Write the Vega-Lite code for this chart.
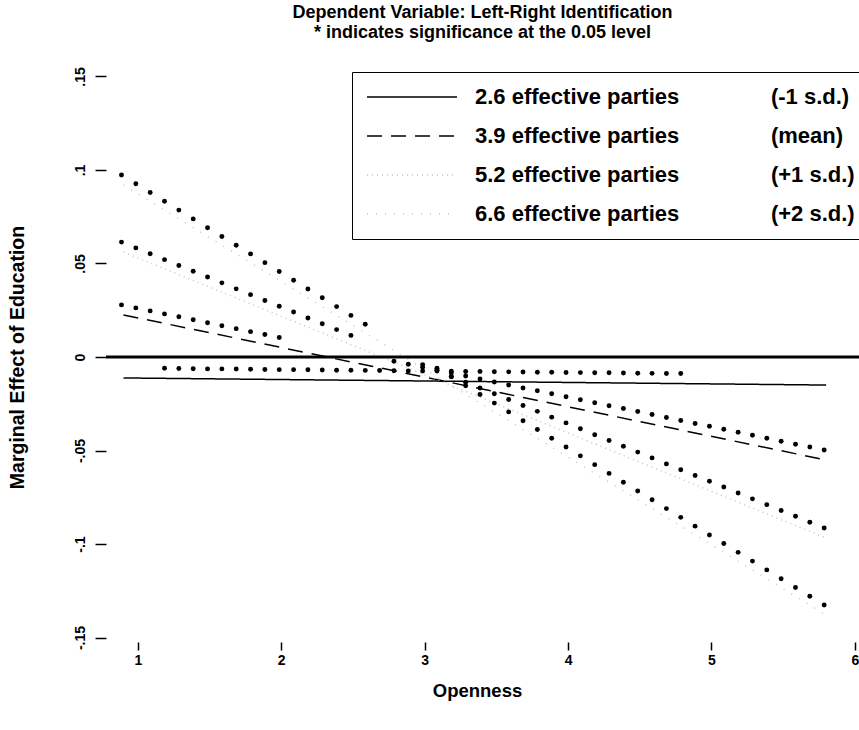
{
  "$schema": "https://vega.github.io/schema/vega-lite/v6.json",
  "autosize": {"type": "none"},
  "padding": {"left": 106, "top": 72, "right": 0, "bottom": 88},
  "width": 753,
  "height": 570,
  "background": "white",
  "title": {
    "text": ["Dependent Variable: Left-Right Identification", "* indicates significance at the 0.05 level"],
    "font": "Liberation Sans",
    "fontWeight": "bold",
    "fontSize": 18,
    "lineHeight": 20,
    "anchor": "middle",
    "offset": 25,
    "color": "black"
  },
  "config": {
    "font": "Liberation Sans",
    "view": {"stroke": null},
    "axis": {"domain": false, "grid": false, "tickColor": "black", "tickWidth": 1.5, "labelColor": "black", "titleColor": "black", "labelFont": "Liberation Sans", "titleFont": "Liberation Sans", "labelFontWeight": "bold", "titleFontWeight": "bold"},
    "axisX": {"tickSize": 8, "labelFontSize": 14, "labelPadding": 3, "titleFontSize": 18.5, "titleX": 371, "titleY": 48, "titleBaseline": "middle"},
    "axisY": {"tickSize": 11, "labelFontSize": 14, "labelAngle": 270, "labelAlign": "center", "labelBaseline": "bottom", "labelPadding": 8, "titleFontSize": 19.5, "titleX": -89, "titleBaseline": "middle"},
    "legend": {
      "symbolType": "stroke",
      "symbolSize": 8100,
      "symbolStrokeWidth": 1.5,
      "labelFont": "Liberation Sans",
      "labelFontSize": 22,
      "labelFontWeight": "bold",
      "labelColor": "black",
      "strokeColor": "black",
      "fillColor": "white",
      "padding": 14,
      "rowPadding": 17,
      "labelOffset": 17,
      "clipHeight": 22,
      "labelLimit": 0
    }
  },
  "datasets": {
    "lines": [
      {"series": "2.6 effective parties", "x": 0.9, "y": -0.0112},
      {"series": "2.6 effective parties", "x": 5.8, "y": -0.015},
      {"series": "3.9 effective parties", "x": 0.9, "y": 0.0225},
      {"series": "3.9 effective parties", "x": 5.8, "y": -0.0551},
      {"series": "5.2 effective parties", "x": 0.9, "y": 0.0561},
      {"series": "5.2 effective parties", "x": 5.8, "y": -0.0968},
      {"series": "6.6 effective parties", "x": 0.9, "y": 0.092},
      {"series": "6.6 effective parties", "x": 5.8, "y": -0.138}
    ],
    "stars": [
      {"s": "2.6", "x": 1.2, "y": -0.0114}, {"s": "2.6", "x": 1.3, "y": -0.0115}, {"s": "2.6", "x": 1.4, "y": -0.0116}, {"s": "2.6", "x": 1.5, "y": -0.0117},
      {"s": "2.6", "x": 1.6, "y": -0.0117}, {"s": "2.6", "x": 1.7, "y": -0.0118}, {"s": "2.6", "x": 1.8, "y": -0.0119}, {"s": "2.6", "x": 1.9, "y": -0.012},
      {"s": "2.6", "x": 2.0, "y": -0.0121}, {"s": "2.6", "x": 2.1, "y": -0.0121}, {"s": "2.6", "x": 2.2, "y": -0.0122}, {"s": "2.6", "x": 2.3, "y": -0.0123},
      {"s": "2.6", "x": 2.4, "y": -0.0124}, {"s": "2.6", "x": 2.5, "y": -0.0124}, {"s": "2.6", "x": 2.6, "y": -0.0125}, {"s": "2.6", "x": 2.7, "y": -0.0126},
      {"s": "2.6", "x": 2.8, "y": -0.0127}, {"s": "2.6", "x": 2.9, "y": -0.0128}, {"s": "2.6", "x": 3.0, "y": -0.0128}, {"s": "2.6", "x": 3.1, "y": -0.0129},
      {"s": "2.6", "x": 3.2, "y": -0.013}, {"s": "2.6", "x": 3.3, "y": -0.0131}, {"s": "2.6", "x": 3.4, "y": -0.0131}, {"s": "2.6", "x": 3.5, "y": -0.0132},
      {"s": "2.6", "x": 3.6, "y": -0.0133}, {"s": "2.6", "x": 3.7, "y": -0.0134}, {"s": "2.6", "x": 3.8, "y": -0.0135}, {"s": "2.6", "x": 3.9, "y": -0.0135},
      {"s": "2.6", "x": 4.0, "y": -0.0136}, {"s": "2.6", "x": 4.1, "y": -0.0137}, {"s": "2.6", "x": 4.2, "y": -0.0138}, {"s": "2.6", "x": 4.3, "y": -0.0138},
      {"s": "2.6", "x": 4.4, "y": -0.0139}, {"s": "2.6", "x": 4.5, "y": -0.014}, {"s": "2.6", "x": 4.6, "y": -0.0141}, {"s": "2.6", "x": 4.7, "y": -0.0142},
      {"s": "2.6", "x": 4.8, "y": -0.0142},
      {"s": "3.9", "x": 0.9, "y": 0.0225}, {"s": "3.9", "x": 1.0, "y": 0.0209}, {"s": "3.9", "x": 1.1, "y": 0.0193}, {"s": "3.9", "x": 1.2, "y": 0.0177},
      {"s": "3.9", "x": 1.3, "y": 0.0162}, {"s": "3.9", "x": 1.4, "y": 0.0146}, {"s": "3.9", "x": 1.5, "y": 0.013}, {"s": "3.9", "x": 1.6, "y": 0.0114},
      {"s": "3.9", "x": 1.7, "y": 0.0098}, {"s": "3.9", "x": 1.8, "y": 0.0082}, {"s": "3.9", "x": 1.9, "y": 0.0067}, {"s": "3.9", "x": 2.0, "y": 0.0051},
      {"s": "3.9", "x": 2.8, "y": -0.0076}, {"s": "3.9", "x": 2.9, "y": -0.0092}, {"s": "3.9", "x": 3.0, "y": -0.0108}, {"s": "3.9", "x": 3.1, "y": -0.0123},
      {"s": "3.9", "x": 3.2, "y": -0.0139}, {"s": "3.9", "x": 3.3, "y": -0.0155}, {"s": "3.9", "x": 3.4, "y": -0.0171}, {"s": "3.9", "x": 3.5, "y": -0.0187},
      {"s": "3.9", "x": 3.6, "y": -0.0203}, {"s": "3.9", "x": 3.7, "y": -0.0219}, {"s": "3.9", "x": 3.8, "y": -0.0234}, {"s": "3.9", "x": 3.9, "y": -0.025},
      {"s": "3.9", "x": 4.0, "y": -0.0266}, {"s": "3.9", "x": 4.1, "y": -0.0282}, {"s": "3.9", "x": 4.2, "y": -0.0298}, {"s": "3.9", "x": 4.3, "y": -0.0314},
      {"s": "3.9", "x": 4.4, "y": -0.0329}, {"s": "3.9", "x": 4.5, "y": -0.0345}, {"s": "3.9", "x": 4.6, "y": -0.0361}, {"s": "3.9", "x": 4.7, "y": -0.0377},
      {"s": "3.9", "x": 4.8, "y": -0.0393}, {"s": "3.9", "x": 4.9, "y": -0.0409}, {"s": "3.9", "x": 5.0, "y": -0.0424}, {"s": "3.9", "x": 5.1, "y": -0.044},
      {"s": "3.9", "x": 5.2, "y": -0.0456}, {"s": "3.9", "x": 5.3, "y": -0.0472}, {"s": "3.9", "x": 5.4, "y": -0.0488}, {"s": "3.9", "x": 5.5, "y": -0.0504},
      {"s": "3.9", "x": 5.6, "y": -0.052}, {"s": "3.9", "x": 5.7, "y": -0.0535}, {"s": "3.9", "x": 5.8, "y": -0.0551},
      {"s": "5.2", "x": 0.9, "y": 0.0561}, {"s": "5.2", "x": 1.0, "y": 0.053}, {"s": "5.2", "x": 1.1, "y": 0.0499}, {"s": "5.2", "x": 1.2, "y": 0.0467},
      {"s": "5.2", "x": 1.3, "y": 0.0436}, {"s": "5.2", "x": 1.4, "y": 0.0405}, {"s": "5.2", "x": 1.5, "y": 0.0374}, {"s": "5.2", "x": 1.6, "y": 0.0343},
      {"s": "5.2", "x": 1.7, "y": 0.0311}, {"s": "5.2", "x": 1.8, "y": 0.028}, {"s": "5.2", "x": 1.9, "y": 0.0249}, {"s": "5.2", "x": 2.0, "y": 0.0218},
      {"s": "5.2", "x": 2.1, "y": 0.0187}, {"s": "5.2", "x": 2.2, "y": 0.0155}, {"s": "5.2", "x": 2.3, "y": 0.0124}, {"s": "5.2", "x": 2.4, "y": 0.0093},
      {"s": "5.2", "x": 2.5, "y": 0.0062},
      {"s": "5.2", "x": 3.0, "y": -0.0094}, {"s": "5.2", "x": 3.1, "y": -0.0125}, {"s": "5.2", "x": 3.2, "y": -0.0157}, {"s": "5.2", "x": 3.3, "y": -0.0188},
      {"s": "5.2", "x": 3.4, "y": -0.0219}, {"s": "5.2", "x": 3.5, "y": -0.025}, {"s": "5.2", "x": 3.6, "y": -0.0281}, {"s": "5.2", "x": 3.7, "y": -0.0313},
      {"s": "5.2", "x": 3.8, "y": -0.0344}, {"s": "5.2", "x": 3.9, "y": -0.0375}, {"s": "5.2", "x": 4.0, "y": -0.0406}, {"s": "5.2", "x": 4.1, "y": -0.0437},
      {"s": "5.2", "x": 4.2, "y": -0.0469}, {"s": "5.2", "x": 4.3, "y": -0.05}, {"s": "5.2", "x": 4.4, "y": -0.0531}, {"s": "5.2", "x": 4.5, "y": -0.0562},
      {"s": "5.2", "x": 4.6, "y": -0.0593}, {"s": "5.2", "x": 4.7, "y": -0.0625}, {"s": "5.2", "x": 4.8, "y": -0.0656}, {"s": "5.2", "x": 4.9, "y": -0.0687},
      {"s": "5.2", "x": 5.0, "y": -0.0718}, {"s": "5.2", "x": 5.1, "y": -0.0749}, {"s": "5.2", "x": 5.2, "y": -0.0781}, {"s": "5.2", "x": 5.3, "y": -0.0812},
      {"s": "5.2", "x": 5.4, "y": -0.0843}, {"s": "5.2", "x": 5.5, "y": -0.0874}, {"s": "5.2", "x": 5.6, "y": -0.0905}, {"s": "5.2", "x": 5.7, "y": -0.0937},
      {"s": "5.2", "x": 5.8, "y": -0.0968},
      {"s": "6.6", "x": 0.9, "y": 0.092}, {"s": "6.6", "x": 1.0, "y": 0.0873}, {"s": "6.6", "x": 1.1, "y": 0.0826}, {"s": "6.6", "x": 1.2, "y": 0.0779},
      {"s": "6.6", "x": 1.3, "y": 0.0732}, {"s": "6.6", "x": 1.4, "y": 0.0685}, {"s": "6.6", "x": 1.5, "y": 0.0638}, {"s": "6.6", "x": 1.6, "y": 0.0591},
      {"s": "6.6", "x": 1.7, "y": 0.0544}, {"s": "6.6", "x": 1.8, "y": 0.0498}, {"s": "6.6", "x": 1.9, "y": 0.0451}, {"s": "6.6", "x": 2.0, "y": 0.0404},
      {"s": "6.6", "x": 2.1, "y": 0.0357}, {"s": "6.6", "x": 2.2, "y": 0.031}, {"s": "6.6", "x": 2.3, "y": 0.0263}, {"s": "6.6", "x": 2.4, "y": 0.0216},
      {"s": "6.6", "x": 2.5, "y": 0.0169}, {"s": "6.6", "x": 2.6, "y": 0.0122},
      {"s": "6.6", "x": 3.1, "y": -0.0113}, {"s": "6.6", "x": 3.2, "y": -0.016}, {"s": "6.6", "x": 3.3, "y": -0.0207}, {"s": "6.6", "x": 3.4, "y": -0.0254},
      {"s": "6.6", "x": 3.5, "y": -0.03}, {"s": "6.6", "x": 3.6, "y": -0.0347}, {"s": "6.6", "x": 3.7, "y": -0.0394}, {"s": "6.6", "x": 3.8, "y": -0.0441},
      {"s": "6.6", "x": 3.9, "y": -0.0488}, {"s": "6.6", "x": 4.0, "y": -0.0535}, {"s": "6.6", "x": 4.1, "y": -0.0582}, {"s": "6.6", "x": 4.2, "y": -0.0629},
      {"s": "6.6", "x": 4.3, "y": -0.0676}, {"s": "6.6", "x": 4.4, "y": -0.0723}, {"s": "6.6", "x": 4.5, "y": -0.077}, {"s": "6.6", "x": 4.6, "y": -0.0817},
      {"s": "6.6", "x": 4.7, "y": -0.0864}, {"s": "6.6", "x": 4.8, "y": -0.0911}, {"s": "6.6", "x": 4.9, "y": -0.0958}, {"s": "6.6", "x": 5.0, "y": -0.1005},
      {"s": "6.6", "x": 5.1, "y": -0.1051}, {"s": "6.6", "x": 5.2, "y": -0.1098}, {"s": "6.6", "x": 5.3, "y": -0.1145}, {"s": "6.6", "x": 5.4, "y": -0.1192},
      {"s": "6.6", "x": 5.5, "y": -0.1239}, {"s": "6.6", "x": 5.6, "y": -0.1286}, {"s": "6.6", "x": 5.7, "y": -0.1333}, {"s": "6.6", "x": 5.8, "y": -0.138}
    ]
  },
  "layer": [
    {
      "data": {"name": "lines"},
      "mark": {"type": "line", "strokeWidth": 1.5},
      "encoding": {
        "x": {"field": "x", "type": "quantitative", "title": "Openness",
              "scale": {"domain": [0.778, 6.029], "nice": false, "zero": false},
              "axis": {"values": [1, 2, 3, 4, 5, 6], "format": "d"}},
        "y": {"field": "y", "type": "quantitative", "title": "Marginal Effect of Education",
              "scale": {"domain": [-0.1524, 0.1524], "nice": false, "zero": false},
              "axis": {"values": [-0.15, -0.1, -0.05, 0, 0.05, 0.1, 0.15],
                       "labelExpr": "replace(replace(format(datum.value, '.2~f'), '0.', '.'), '\u2212', '-')"}},
        "color": {"field": "series", "type": "nominal",
                  "scale": {"domain": ["2.6 effective parties", "3.9 effective parties", "5.2 effective parties", "6.6 effective parties"],
                            "range": ["black", "black", "#c4c4c4", "#c4c4c4"]},
                  "legend": {"title": null, "orient": "none", "legendX": 246, "legendY": 0,
                             "labelExpr": "datum.label + '\u00a0\u00a0\u00a0\u00a0\u00a0\u00a0\u00a0\u00a0\u00a0\u00a0\u00a0\u00a0\u00a0\u00a0\u00a0' + (datum.label == '2.6 effective parties' ? '(-1 s.d.)' : datum.label == '3.9 effective parties' ? '(mean)' : datum.label == '5.2 effective parties' ? '(+1 s.d.)' : '(+2 s.d.)')"}},
        "strokeDash": {"field": "series", "type": "nominal",
                       "scale": {"domain": ["2.6 effective parties", "3.9 effective parties", "5.2 effective parties", "6.6 effective parties"],
                                 "range": [[1, 0], [15, 9], [1, 4], [1, 8]]},
                       "legend": {"title": null, "orient": "none", "legendX": 246, "legendY": 0,
                                  "labelExpr": "datum.label + '\u00a0\u00a0\u00a0\u00a0\u00a0\u00a0\u00a0\u00a0\u00a0\u00a0\u00a0\u00a0\u00a0\u00a0\u00a0' + (datum.label == '2.6 effective parties' ? '(-1 s.d.)' : datum.label == '3.9 effective parties' ? '(mean)' : datum.label == '5.2 effective parties' ? '(+1 s.d.)' : '(+2 s.d.)')"}}
      }
    },
    {
      "data": {"values": [{"y": 0}]},
      "mark": {"type": "rule", "strokeWidth": 3, "color": "black"},
      "encoding": {
        "y": {"field": "y", "type": "quantitative", "title": "Marginal Effect of Education",
              "scale": {"domain": [-0.1524, 0.1524], "nice": false, "zero": false}}
      }
    },
    {
      "data": {"name": "stars"},
      "mark": {"type": "circle", "size": 24, "color": "black", "opacity": 1, "yOffset": -10, "xOffset": -2},
      "encoding": {
        "x": {"field": "x", "type": "quantitative", "title": "Openness",
              "scale": {"domain": [0.778, 6.029], "nice": false, "zero": false}},
        "y": {"field": "y", "type": "quantitative", "title": "Marginal Effect of Education",
              "scale": {"domain": [-0.1524, 0.1524], "nice": false, "zero": false}}
      }
    }
  ]
}
